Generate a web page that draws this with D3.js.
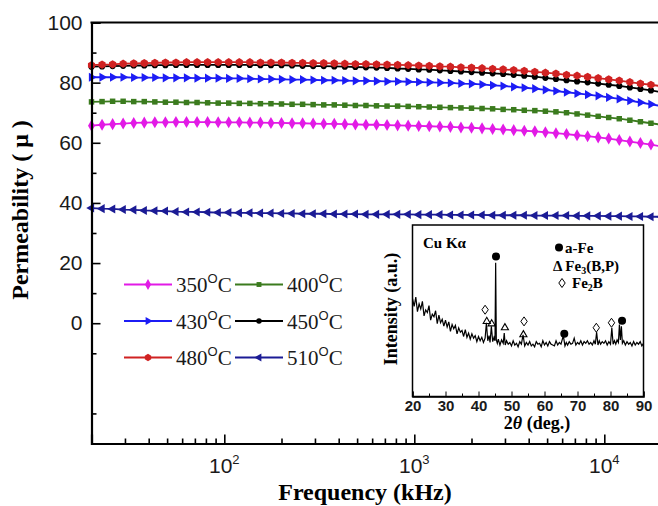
<!DOCTYPE html>
<html><head><meta charset="utf-8">
<script src="https://cdn.jsdelivr.net/npm/d3@7"></script>
<style>body{margin:0;background:#fff}svg{display:block}</style>
</head><body><svg id="c" width="658" height="506"></svg>
<script>
// ---- data ----
const freqs = [20,22.73,25.83,29.35,33.36,37.91,43.09,48.97,55.65,63.25,71.88,81.68,92.83,105.5,119.9,136.3,154.9,176.0,
 200,227.3,258.3,293.5,333.6,379.1,430.9,489.7,556.5,632.5,718.8,816.8,928.3,1055,1199,1363,1549,1760,
 2000,2273,2583,2935,3336,3791,4309,4897,5565,6325,7188,8168,9283,10550,11990,13630,15490,17600,20000];
const mu350 = [65.7,66.0,66.2,66.4,66.6,66.7,66.8,66.8,66.9,66.9,66.9,66.9,66.8,66.8,66.8,66.7,66.7,66.6,66.6,66.5,66.5,66.4,66.3,66.3,66.2,66.1,66.0,66.0,65.9,65.8,65.7,65.6,65.5,65.4,65.3,65.1,65.0,64.8,64.6,64.4,64.2,64.0,63.8,63.5,63.2,62.9,62.5,62.2,61.8,61.4,60.9,60.4,59.9,59.4,58.8];
const mu400 = [73.6,73.7,73.8,73.8,73.7,73.7,73.6,73.5,73.5,73.4,73.4,73.3,73.2,73.2,73.1,73.1,73.0,73.0,72.9,72.8,72.8,72.7,72.6,72.6,72.5,72.4,72.4,72.3,72.2,72.2,72.1,72.0,71.9,71.8,71.7,71.6,71.5,71.4,71.3,71.1,71.0,70.8,70.7,70.5,70.3,70.0,69.6,69.2,68.8,68.4,68.0,67.5,67.0,66.5,66.0];
const mu430 = [81.8,81.8,81.8,81.8,81.7,81.7,81.7,81.6,81.6,81.6,81.5,81.5,81.5,81.4,81.4,81.3,81.2,81.2,81.1,81.0,81.0,80.9,80.8,80.8,80.7,80.6,80.6,80.5,80.4,80.4,80.3,80.2,80.1,80.0,79.9,79.7,79.6,79.4,79.1,78.9,78.6,78.3,78.0,77.6,77.2,76.8,76.4,76.0,75.6,75.1,74.6,74.0,73.4,72.8,72.2];
const mu450 = [85.3,85.4,85.5,85.6,85.7,85.7,85.8,85.8,85.9,85.9,85.9,85.9,85.9,85.9,85.9,85.9,85.8,85.8,85.8,85.7,85.6,85.5,85.5,85.4,85.3,85.2,85.1,85.0,84.9,84.7,84.6,84.4,84.3,84.1,83.9,83.7,83.5,83.3,83.1,82.9,82.6,82.3,82.0,81.6,81.2,80.8,80.4,80.1,79.7,79.3,78.9,78.4,77.9,77.4,76.8];
const mu480 = [85.8,86.0,86.1,86.3,86.4,86.5,86.6,86.7,86.7,86.8,86.8,86.8,86.8,86.8,86.8,86.8,86.7,86.7,86.7,86.6,86.6,86.5,86.5,86.4,86.3,86.2,86.2,86.1,86.0,85.9,85.8,85.7,85.6,85.4,85.3,85.1,85.0,84.8,84.6,84.4,84.2,83.9,83.6,83.3,83.0,82.6,82.3,81.9,81.5,81.1,80.7,80.2,79.7,79.3,78.8];
const mu510 = [38.3,38.1,38.0,37.8,37.7,37.5,37.4,37.3,37.1,37.0,37.0,36.9,36.8,36.8,36.7,36.7,36.6,36.6,36.5,36.5,36.4,36.4,36.4,36.3,36.3,36.3,36.2,36.2,36.2,36.2,36.2,36.1,36.1,36.1,36.0,36.0,36.0,36.0,35.9,35.9,35.9,35.9,35.8,35.8,35.8,35.8,35.7,35.7,35.7,35.6,35.6,35.5,35.5,35.4,35.4];
const seriesLabels = ["350","400","430","450","480","510"];
const seriesColors = ["#e21ae6","#3b7b1e","#1c1cf5","#000000","#d02222","#1b1b95"];
const yTickValues = [0,20,40,60,80,100];
const yMinorValues = [-30,-10,10,30,50,70,90];
const xTickExponents = [2,3,4];
const xMinorValues = [30,40,50,60,70,80,90,200,300,400,500,600,700,800,900,2000,3000,4000,5000,6000,7000,8000,9000];

// XRD inset
const xrdAngle = [20,20.5,21,21.5,22,22.5,23,23.5,24,24.5,25,25.5,26,26.5,27,27.5,28,28.5,29,29.5,30,30.5,31,31.5,32,32.5,33,33.5,34,34.5,35,35.5,36,36.5,37,37.5,38,38.5,39,39.5,40,40.5,41,41.5,42,42.4,42.8,43.2,43.5,43.9,44.3,44.7,45,45.2,45.4,45.7,46,46.5,47,47.5,47.8,48.1,48.5,49,49.5,50,50.5,51,51.5,52,52.5,53,53.5,54,54.5,55,55.5,56,56.5,57,57.5,58,58.5,59,59.5,60,60.5,61,61.5,62,62.5,63,63.5,64,64.5,65,65.7,66.2,66.6,67,67.5,68,68.5,69,69.5,70,70.5,71,71.5,72,72.5,73,73.5,74,74.5,75,75.4,75.8,76.2,76.6,77,77.5,78,78.5,79,79.5,80,80.4,80.8,81.2,81.6,82,82.4,82.7,83,83.3,83.6,84,84.5,85,85.5,86,86.5,87,87.5,88,88.5,89,89.5,90];
const xrdIntensity = [57.0,52.5,58.0,49.5,54.0,51.0,55.5,47.0,50.5,49.0,53.0,44.5,48.0,46.5,50.0,42.5,47.5,43.0,45.0,41.0,44.5,40.5,43.5,38.0,42.0,39.5,41.5,36.5,40.0,37.5,38.5,35.0,39.0,34.5,37.0,33.5,36.5,34.0,35.5,32.0,35.0,32.5,34.5,31.5,34.0,43.0,32.5,35.5,31.5,41.0,32.0,34.5,32.5,78.0,33.0,31.0,33.5,30.0,33.0,31.0,37.0,30.0,32.5,30.5,31.5,29.5,32.5,30.0,31.0,29.0,32.0,30.5,36.0,29.5,31.5,30.0,32.0,29.5,30.5,29.0,32.0,30.5,31.0,29.0,32.5,30.0,31.5,29.5,32.0,30.5,30.0,29.5,32.5,30.0,31.5,30.5,35.5,29.5,31.5,30.0,32.0,30.5,31.0,34.0,30.0,31.5,30.5,32.5,30.0,32.0,31.0,32.5,30.5,31.5,30.0,32.5,30.5,37.5,30.0,32.5,30.5,32.0,31.0,32.5,30.0,32.0,30.5,40.0,30.5,32.5,30.5,33.0,31.5,42.0,33.0,41.0,31.0,32.5,30.0,32.0,30.5,31.5,29.5,32.0,30.0,31.5,30.5,32.0,29.5,31.0];
const xrdTicks = [20,30,40,50,60,70,80,90];
const xrdMinor = [25,35,45,55,65,75,85];
const alphaFePeaks = [[45.3,81.6],[66.0,36.6],[83.5,44.2]];
const fe3bpPeaks = [[42.5,43.8],[44.0,42.4],[48.0,40.1],[53.6,36.0]];
const fe2bPeaks = [[42.0,50.6],[53.8,43.8],[75.7,40.1],[80.3,43.0]];

// ---- drawing ----
const svg = d3.select("#c");
svg.append("rect").attr("width",658).attr("height",506).attr("fill","#fff");
const x = d3.scaleLog().domain([20,20000]).range([91.5,661.5]);
const y = d3.scaleLinear().domain([-40,100]).range([443.5,22.5]);
const SANS = "Liberation Sans, Arial, sans-serif";
const SERIF = "Liberation Serif, Times New Roman, serif";

const series = [mu350,mu400,mu430,mu450,mu480,mu510];

const hexagon = {draw(ctx,size){const r=Math.sqrt(size/2.6);for(let i=0;i<6;i++){const a=Math.PI/3*i-Math.PI/2;const px=r*Math.cos(a),py=r*Math.sin(a);if(i===0)ctx.moveTo(px,py);else ctx.lineTo(px,py);}ctx.closePath();}};
const markers = [
  {type:d3.symbolDiamond,size:42,rot:0},
  {type:d3.symbolSquare,size:30,rot:0},
  {type:d3.symbolTriangle,size:36,rot:90},
  {type:d3.symbolCircle,size:30,rot:0},
  {type:hexagon,size:44,rot:0},
  {type:d3.symbolTriangle,size:36,rot:-90}
];

const plot = svg.append("g");
series.forEach((vals,si)=>{
  const pts = freqs.map((f,i)=>[f,vals[i]]);
  plot.append("path").datum(pts)
    .attr("fill","none").attr("stroke",seriesColors[si]).attr("stroke-width",1.8)
    .attr("d",d3.line().x(d=>x(d[0])).y(d=>y(d[1])));
  const sym = d3.symbol().type(markers[si].type).size(markers[si].size);
  plot.selectAll(null).data(pts).enter().append("path")
    .attr("d",sym).attr("fill",seriesColors[si])
    .attr("transform",d=>`translate(${x(d[0])},${y(d[1])}) rotate(${markers[si].rot})`);
});

// axes
const xAxis = svg.append("g").attr("transform","translate(0,443.5)")
  .call(d3.axisBottom(x).tickValues(xTickExponents.map(e=>Math.pow(10,e))).tickSize(-9).tickFormat(""));
xAxis.append("g").call(d3.axisBottom(x).tickValues(xMinorValues).tickSize(-5).tickFormat(""))
  .select(".domain").remove();
xAxis.select(".domain").attr("stroke-width",2.2);
xAxis.selectAll(".tick line").attr("stroke-width",1.6);

const yAxis = svg.append("g").attr("transform","translate(91.5,0)")
  .call(d3.axisLeft(y).tickValues(yTickValues).tickSize(-9).tickPadding(9));
yAxis.append("g").call(d3.axisLeft(y).tickValues(yMinorValues).tickSize(-5).tickFormat(""))
  .select(".domain").remove();
yAxis.select(".domain").attr("stroke-width",2.2);
yAxis.selectAll(".tick line").attr("stroke-width",1.6);
yAxis.selectAll(".tick text").attr("font-family",SANS).attr("font-size",21).attr("fill","#1a1a1a");
svg.append("line").attr("x1",90.5).attr("x2",658).attr("y1",22.5).attr("y2",22.5)
  .attr("stroke","#000").attr("stroke-width",2.2);

xTickExponents.forEach(e=>{
  const t = svg.append("text").attr("x",x(Math.pow(10,e))).attr("y",473)
    .attr("text-anchor","middle").attr("font-family",SANS).attr("font-size",21).attr("fill","#1a1a1a");
  t.append("tspan").text("10");
  t.append("tspan").attr("dy",-9).attr("font-size",13).text(String(e));
});

svg.append("text").attr("x",365).attr("y",500).attr("text-anchor","middle")
  .attr("font-family",SERIF).attr("font-weight","bold").attr("font-size",24).text("Frequency (kHz)");
svg.append("text").attr("transform","translate(28,210) rotate(-90)").attr("text-anchor","middle")
  .attr("font-family",SERIF).attr("font-weight","bold").attr("font-size",24).text("Permeability ( μ )");

// legend
const legendRows = [284.5,321,357.5];
const legendCols = [{x1:124,x2:172,tx:176},{x1:235,x2:283,tx:287}];
seriesLabels.forEach((lab,si)=>{
  const r = Math.floor(si/2), c = si%2;
  const cy = legendRows[r], col = legendCols[c];
  const g = svg.append("g");
  g.append("line").attr("x1",col.x1).attr("x2",col.x2).attr("y1",cy).attr("y2",cy)
    .attr("stroke",seriesColors[si]).attr("stroke-width",2);
  g.append("path").attr("d",d3.symbol().type(markers[si].type).size(markers[si].size*0.8))
    .attr("fill",seriesColors[si])
    .attr("transform",`translate(${(col.x1+col.x2)/2},${cy}) rotate(${markers[si].rot})`);
  const t = g.append("text").attr("x",col.tx).attr("y",cy+7.5)
    .attr("font-family",SERIF).attr("font-size",21).attr("fill","#1a1a1a");
  t.append("tspan").text(lab);
  t.append("tspan").attr("dy",-9).attr("font-family",SANS).attr("font-size",13).text("O");
  t.append("tspan").attr("dy",9).text("C");
});

// ---- inset ----
const ix = d3.scaleLinear().domain([20,90]).range([412.5,643.5]);
const iy = d3.scaleLinear().domain([0,100]).range([396.5,225]);
const inset = svg.append("g");
inset.append("rect").attr("x",412.5).attr("y",225).attr("width",231).attr("height",171.5)
  .attr("fill","#fff").attr("stroke","#000").attr("stroke-width",1.5);
inset.append("path").datum(xrdAngle.map((a,i)=>[a,xrdIntensity[i]]))
  .attr("fill","none").attr("stroke","#000").attr("stroke-width",1.2)
  .attr("d",d3.line().x(d=>ix(d[0])).y(d=>iy(d[1])));
const ixAxis = inset.append("g").attr("transform","translate(0,396.5)")
  .call(d3.axisBottom(ix).tickValues(xrdTicks).tickSize(-5).tickPadding(4));
ixAxis.append("g").call(d3.axisBottom(ix).tickValues(xrdMinor).tickSize(-3).tickFormat("")).select(".domain").remove();
ixAxis.select(".domain").attr("stroke-width",1.5);
ixAxis.selectAll(".tick text").attr("font-family",SANS).attr("font-weight","bold").attr("font-size",15).attr("fill","#1a1a1a");
inset.selectAll(null).data(alphaFePeaks).enter().append("circle")
  .attr("cx",d=>ix(d[0])).attr("cy",d=>iy(d[1])).attr("r",4).attr("fill","#000");
inset.selectAll(null).data(fe3bpPeaks).enter().append("path")
  .attr("d",d3.symbol().type(d3.symbolTriangle).size(22))
  .attr("transform",d=>`translate(${ix(d[0])},${iy(d[1])})`)
  .attr("fill","none").attr("stroke","#000").attr("stroke-width",1.1);
inset.selectAll(null).data(fe2bPeaks).enter().append("path")
  .attr("d","M0,-4.5L3.2,0L0,4.5L-3.2,0Z")
  .attr("transform",d=>`translate(${ix(d[0])},${iy(d[1])})`)
  .attr("fill","none").attr("stroke","#000").attr("stroke-width",1);
inset.append("text").attr("x",423).attr("y",248).attr("font-family",SERIF).attr("font-weight","bold")
  .attr("font-size",15).text("Cu Kα");
inset.append("circle").attr("cx",559).attr("cy",247.5).attr("r",4).attr("fill","#000");
inset.append("text").attr("x",565).attr("y",253).attr("font-family",SERIF).attr("font-weight","bold")
  .attr("font-size",15).text("a-Fe");
const t2 = inset.append("text").attr("x",553).attr("y",271).attr("font-family",SERIF).attr("font-weight","bold").attr("font-size",15);
t2.append("tspan").text("Δ Fe");
t2.append("tspan").attr("dy",3).attr("font-size",10).text("3");
t2.append("tspan").attr("dy",-3).text("(B,P)");
inset.append("path").attr("d","M0,-4.5L3.2,0L0,4.5L-3.2,0Z").attr("transform","translate(562,283)")
  .attr("fill","none").attr("stroke","#000").attr("stroke-width",1);
const t3 = inset.append("text").attr("x",572).attr("y",288).attr("font-family",SERIF).attr("font-weight","bold").attr("font-size",15);
t3.append("tspan").text("Fe");
t3.append("tspan").attr("dy",3).attr("font-size",10).text("2");
t3.append("tspan").attr("dy",-3).text("B");
svg.append("text").attr("transform","translate(397,309) rotate(-90)").attr("text-anchor","middle")
  .attr("font-family",SERIF).attr("font-weight","bold").attr("font-size",18).text("Intensity (a.u.)");
const t4 = svg.append("text").attr("x",537).attr("y",429).attr("text-anchor","middle")
  .attr("font-family",SERIF).attr("font-weight","bold").attr("font-size",18);
t4.append("tspan").text("2");
t4.append("tspan").attr("font-style","italic").text("θ");
t4.append("tspan").text(" (deg.)");
</script></body></html>
